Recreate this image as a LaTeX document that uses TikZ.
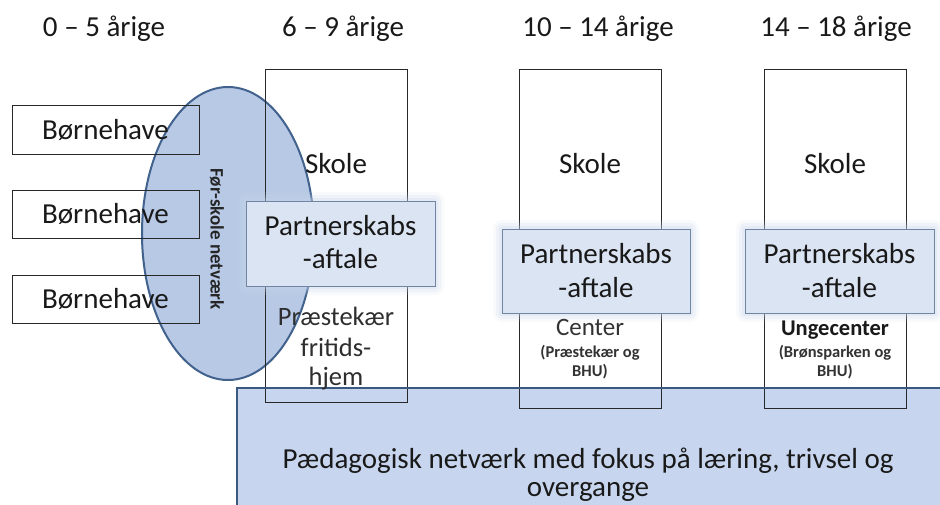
\documentclass[tikz,border=0pt]{standalone}
\usepackage{fontspec}
\setmainfont{Carlito}
\usetikzlibrary{shapes.geometric}
\definecolor{ellfill}{RGB}{183,201,229}
\definecolor{ellline}{RGB}{66,98,142}
\definecolor{bigfill}{RGB}{199,214,238}
\definecolor{bigline}{RGB}{58,88,128}
\definecolor{pfill}{RGB}{219,228,242}
\definecolor{pline}{RGB}{112,132,164}
\definecolor{glow}{RGB}{200,214,236}
\definecolor{colline}{RGB}{40,40,40}
\definecolor{txt}{RGB}{25,25,25}
\newcommand\fsz[1]{\fontsize{#1}{#1}\selectfont}
\begin{document}
\begin{tikzpicture}[x=1pt,y=-1pt,
  every node/.style={inner sep=0pt, outer sep=0pt, text=txt},
  colbox/.style={draw=colline, line width=0.9pt, rectangle, anchor=north west, minimum width=142pt},
  bhbox/.style={draw=colline, line width=0.9pt, rectangle, anchor=north west, minimum width=187pt, minimum height=48pt, font=\fsz{29}},
  pbox/.style={draw=pline, line width=1pt, fill=pfill, rectangle, anchor=north west, minimum width=189pt, minimum height=85pt},
  head/.style={anchor=base, font=\fsz{29}},
  bigtxt/.style={anchor=base, font=\fsz{29}},
  midtxt/.style={anchor=base, font=\fsz{26.5}, text=black!82},
  smalltxt/.style={anchor=base, font=\bfseries\fsz{16.5}, text=black!80}
]
\useasboundingbox (0,0) rectangle (940,504);
\fill[white] (0,0) rectangle (940,504);

% pre-school network ellipse
\node (net) [ellipse, draw=ellline, line width=2pt, fill=ellfill,
  minimum width=172pt, minimum height=293pt] at (228,233.5) {};

% big network box (fill)
\node (ped) [rectangle, fill=bigfill, anchor=north west,
  minimum width=720pt, minimum height=130pt] at (237,388) {};

% column boxes
\node (col1) [colbox, minimum height=333pt] at (265,69) {};
\node (col2) [colbox, minimum height=339pt] at (519,69) {};
\node (col3) [colbox, minimum height=339pt] at (764,69) {};

% kindergarten boxes
\node (bh1) [bhbox, minimum height=49pt] at (12,105) {Børnehave};
\node (bh2) [bhbox] at (12,190) {Børnehave};
\node (bh3) [bhbox] at (12,275) {Børnehave};

% big box border
\draw[bigline, line width=2.5pt] (ped.south west) -- (ped.north west) -- (ped.north east);

% headers
\node (h1) [head] at (104,36) {0 – 5 årige};
\node (h2) [head] at (343,36) {6 – 9 årige};
\node (h3) [head] at (598,36) {10 – 14 årige};
\node (h4) [head] at (836,36) {14 – 18 årige};

% ellipse label
\node (netlbl) [rotate=-90, font=\bfseries\fsz{19}, text=black!85] at (217,239) {Før-skole netværk};

% school labels
\node (s1) [head] at (336,173) {Skole};
\node (s2) [head] at (590,173) {Skole};
\node (s3) [head] at (835,173) {Skole};

% glow behind partnership boxes
\foreach \gx/\gy/\gw/\gh in {246/201/189/85, 502/229/188/84, 745/229/189/84}{
  \foreach \e/\o in {9/0.12, 6/0.18, 3/0.25}{
    \fill[glow, opacity=\o, rounded corners=\e pt]
      (\gx-\e,\gy-\e) rectangle (\gx+\gw+\e,\gy+\gh+\e);
  }
}

% partnership boxes
\node (p1) [pbox] at (246,201) {};
\node (p2) [pbox, minimum width=188pt, minimum height=84pt] at (502,229) {};
\node (p3) [pbox, minimum height=84pt] at (745,229) {};

\node (p1a) [head] at (340.5,235) {Partnerskabs};
\node (p1b) [head] at (340.5,268) {-aftale};
\node (p2a) [head] at (596,263) {Partnerskabs};
\node (p2b) [head] at (596,297) {-aftale};
\node (p3a) [head] at (839.5,263) {Partnerskabs};
\node (p3b) [head] at (839.5,297) {-aftale};

% lower column texts
\node (c1a) [midtxt] at (336,325) {Præstekær};
\node (c1b) [midtxt] at (336,356) {fritids-};
\node (c1c) [midtxt] at (336,385) {hjem};

\node (c2a) [anchor=base, font=\fsz{25}, text=black!80] at (590,335) {Center};
\node (c2b) [smalltxt] at (590,357) {(Præstekær og};
\node (c2c) [smalltxt] at (590,376) {BHU)};

\node (c3a) [anchor=base, font=\bfseries\fsz{22.5}] at (835,335) {Ungecenter};
\node (c3b) [smalltxt] at (835,357) {(Brønsparken og};
\node (c3c) [smalltxt] at (835,376) {BHU)};

% big box text
\node (pt1) [bigtxt] at (588,468) {Pædagogisk netværk med fokus på læring, trivsel og};
\node (pt2) [bigtxt] at (588,496.5) {overgange};
\end{tikzpicture}
\end{document}
